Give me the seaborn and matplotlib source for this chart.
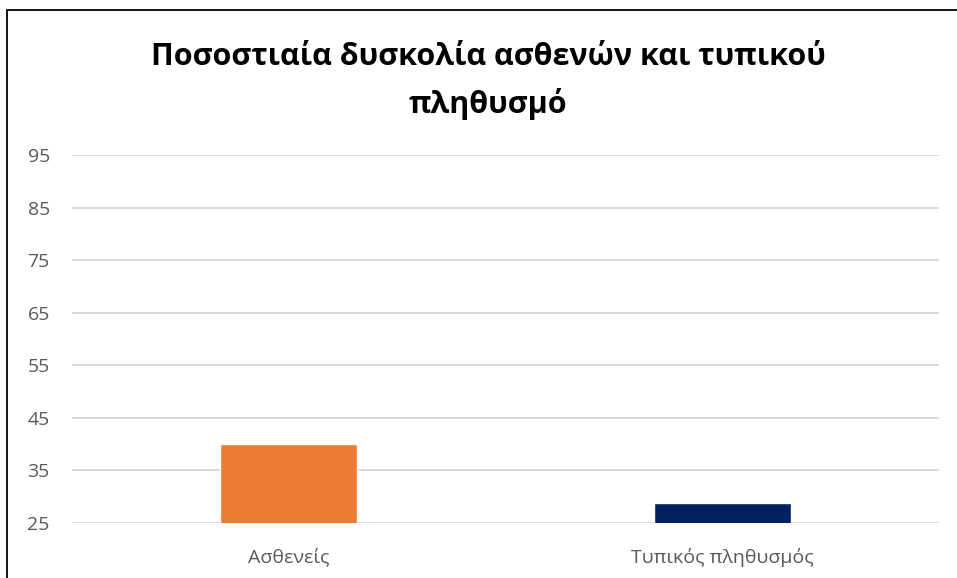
import matplotlib
matplotlib.use("Agg")
import matplotlib.pyplot as plt
import seaborn as sns
import pandas as pd
from matplotlib.patches import Rectangle

categories = ["Ασθενείς", "Τυπικός πληθυσμός"]
values = [40, 28.8]
colors = ["#ED7D31", "#002060"]
yticks = [25, 35, 45, 55, 65, 75, 85, 95]
title = "Ποσοστιαία δυσκολία ασθενών και τυπικού\nπληθυσμό"

sns.set_theme(style="white")
plt.rcParams["font.family"] = ["Open Sans", "DejaVu Sans"]

df = pd.DataFrame({"category": categories, "value": values})

fig = plt.figure(figsize=(9.57, 5.78), dpi=100)
ax = fig.add_axes([72 / 957, 1 - 523 / 578, (939 - 72) / 957, (523 - 155) / 578])

sns.barplot(data=df, x="category", y="value", hue="category", palette=colors,
            width=0.316, legend=False, ax=ax, saturation=1)

ax.set_ylim(25, 95)
ax.set_yticks(yticks)
ax.set_yticklabels([str(t) for t in yticks])
ax.set_xlim(-0.5, 1.5)
ax.grid(axis="y", color="#d9d9d9", linewidth=1.4)
ax.set_axisbelow(True)
for s in ax.spines.values():
    s.set_visible(False)
ax.set_xlabel("")
ax.set_ylabel("")
ax.tick_params(axis="both", length=0, labelsize=14, colors="#595959")
ax.tick_params(axis="y", pad=16)
ax.tick_params(axis="x", pad=18)

fig.text(488 / 957, 1 - 81 / 578, title, ha="center", va="center",
         fontsize=22, fontweight="bold", color="black", linespacing=1.65)

# Chart-area frame
fig.patches.append(Rectangle((7.5 / 957, -0.1), 1.2, 1 - 10.5 / 578 + 0.1,
                             transform=fig.transFigure, fill=False,
                             edgecolor="black", linewidth=1.3))

fig.savefig("out.png", dpi=100, facecolor="white")
